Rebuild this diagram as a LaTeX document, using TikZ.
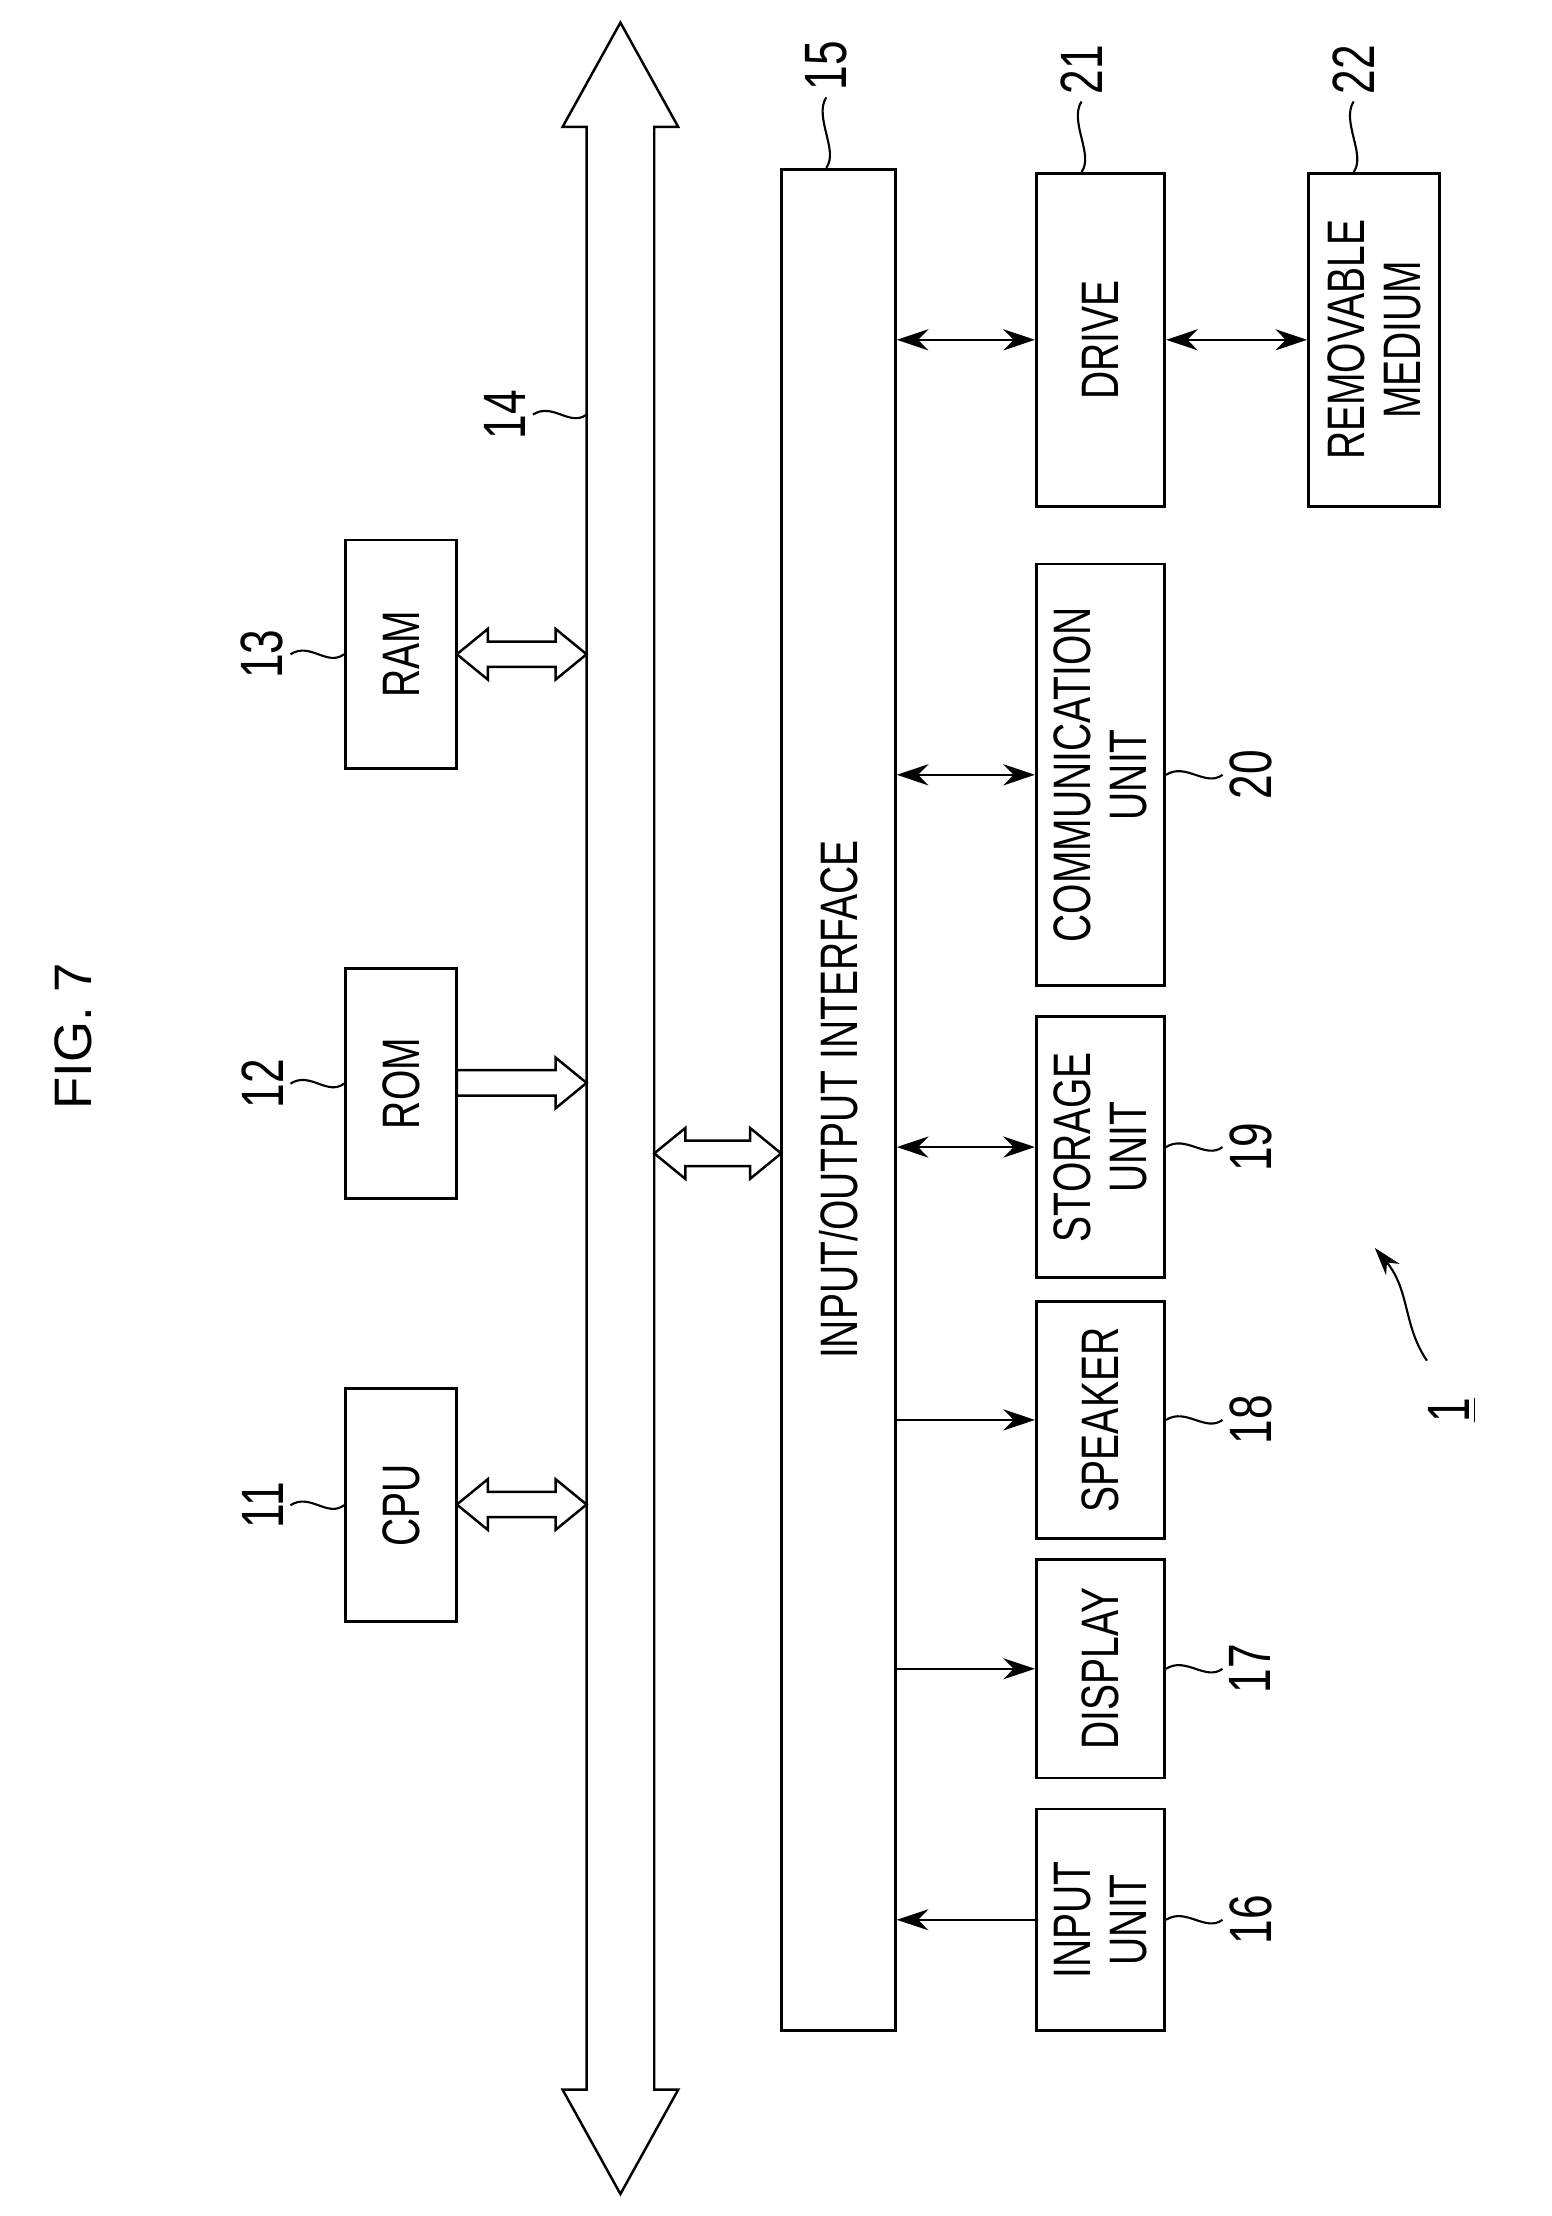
\documentclass[tikz,border=0pt]{standalone}
\usepackage{fontspec}
\setmainfont{Liberation Sans}
\newfontfamily\cond[FakeStretch=0.74]{Liberation Sans}
\usetikzlibrary{positioning,fit,calc,arrows.meta}

% hollow block arrows: {x from}{x to}{y}
\newcommand\hollowone[3]{%
  \draw[blk] (#1,#3-9) -- (#2-22,#3-9) -- (#2-22,#3-18) -- (#2,#3)
    -- (#2-22,#3+18) -- (#2-22,#3+9) -- (#1,#3+9) -- cycle;}
\newcommand\hollowtwo[3]{%
  \draw[blk] (#1,#3) -- (#1+22,#3-18) -- (#1+22,#3-9) -- (#2-22,#3-9)
    -- (#2-22,#3-18) -- (#2,#3) -- (#2-22,#3+18) -- (#2-22,#3+9)
    -- (#1+22,#3+9) -- (#1+22,#3+18) -- cycle;}
% box from two corners, rotated text
\newcommand\unit[6]{%
  \path (#2,#3) coordinate (#1-a) (#4,#5) coordinate (#1-b);
  \node[box, fit=(#1-a)(#1-b)] (#1) {};
  \node[txt] at (#1) {#6};}

\begin{document}
\begin{tikzpicture}[x=0.0141cm, y=-0.0141cm,
    box/.style={draw, line width=0.8pt, inner sep=0pt},
    txt/.style={rotate=90, align=center, font=\cond\fontsize{15}{16}\selectfont},
    num/.style={rotate=90, inner sep=1pt, font=\cond\fontsize{17}{18}\selectfont},
    blk/.style={line width=0.7pt, fill=white},
    link/.style={line width=0.7pt},
    lead/.style={line width=0.6pt},
    tip/.tip={Stealth[length=9pt,width=6pt]}
  ]
  \useasboundingbox (0,0) rectangle (1100,1571.6);

  \node[rotate=90, font=\fontsize{15}{16}\selectfont] (fig) at (52,735) {FIG. 7};

  % bus
  \draw[blk] (440,16) -- (481,90) -- (464,90) -- (464,1482) -- (481,1482)
    -- (440,1556) -- (399,1482) -- (416,1482) -- (416,90) -- (399,90) -- cycle;
  \coordinate (bus) at (416,294);

  % CPU side
  \unit{cpu}{245}{985}{324}{1150}{CPU}
  \unit{rom}{245}{687}{324}{850}{ROM}
  \unit{ram}{245}{383}{324}{545}{RAM}
  \hollowtwo{324}{416}{1067}
  \hollowone{324}{416}{768}
  \hollowtwo{324}{416}{464}
  \hollowtwo{464}{554}{818}

  % input/output interface and units
  \unit{io}{554}{120}{635}{1440}{INPUT/OUTPUT INTERFACE}
  \unit{input}{735}{1283}{826}{1440}{INPUT\\UNIT}
  \unit{disp}{735}{1106}{826}{1261}{DISPLAY}
  \unit{spk}{735}{923}{826}{1091}{SPEAKER}
  \unit{stor}{735}{721}{826}{906}{STORAGE\\UNIT}
  \unit{comm}{735}{400}{826}{699}{COMMUNICATION\\UNIT}
  \unit{drive}{735}{123}{826}{359}{DRIVE}
  \unit{media}{928}{123}{1021}{359}{REMOVABLE\\MEDIUM}

  \draw[link, tip-] (io.east |- input.west) -- (input.west);
  \draw[link, -tip] (io.east |- disp.west) -- (disp.west);
  \draw[link, -tip] (io.east |- spk.west) -- (spk.west);
  \foreach \u in {stor,comm,drive}
    \draw[link, tip-tip] (io.east |- \u.west) -- (\u.west);
  \draw[link, tip-tip] (drive.east) -- (media.west);

  % reference numbers
  \foreach \u/\n in {cpu/11, rom/12, ram/13} {
    \node[num, anchor=south] (n\n) at ($(\u.west)+(-40,0)$) {\n};
    \draw[lead] ($(\u.west)+(-38,0)$) .. controls +(14,-9) and +(-12,9) .. (\u.west);
  }
  \foreach \u/\n in {input/16, disp/17, spk/18, stor/19, comm/20} {
    \node[num, anchor=north] (n\n) at ($(\u.east)+(42,0)$) {\n};
    \draw[lead] (\u.east) .. controls +(14,-9) and +(-12,9) .. ($(\u.east)+(40,0)$);
  }
  \foreach \u/\n in {io/15, drive/21, media/22} {
    \node[num, anchor=west] (n\n) at ($(\u.north west)+(33,-52)$) {\n};
    \draw[lead] ($(\u.north west)+(33,-50)$) .. controls +(-9,14) and +(9,-12) .. ($(\u.north west)+(33,0)$);
  }
  \node[num, anchor=south] (n14) at ($(bus)+(-40,0)$) {14};
  \draw[lead] ($(bus)+(-38,0)$) .. controls +(14,-9) and +(-12,9) .. (bus);

  % whole apparatus
  \node[num] (n1) at (1030,1000) {\underline{1}};
  \coordinate (p1) at (975,885);
  \draw[lead, -{Stealth[length=8pt,width=5pt]}] (1012,965) .. controls (995,940) and (1000,915) .. (p1);
\end{tikzpicture}
\end{document}
